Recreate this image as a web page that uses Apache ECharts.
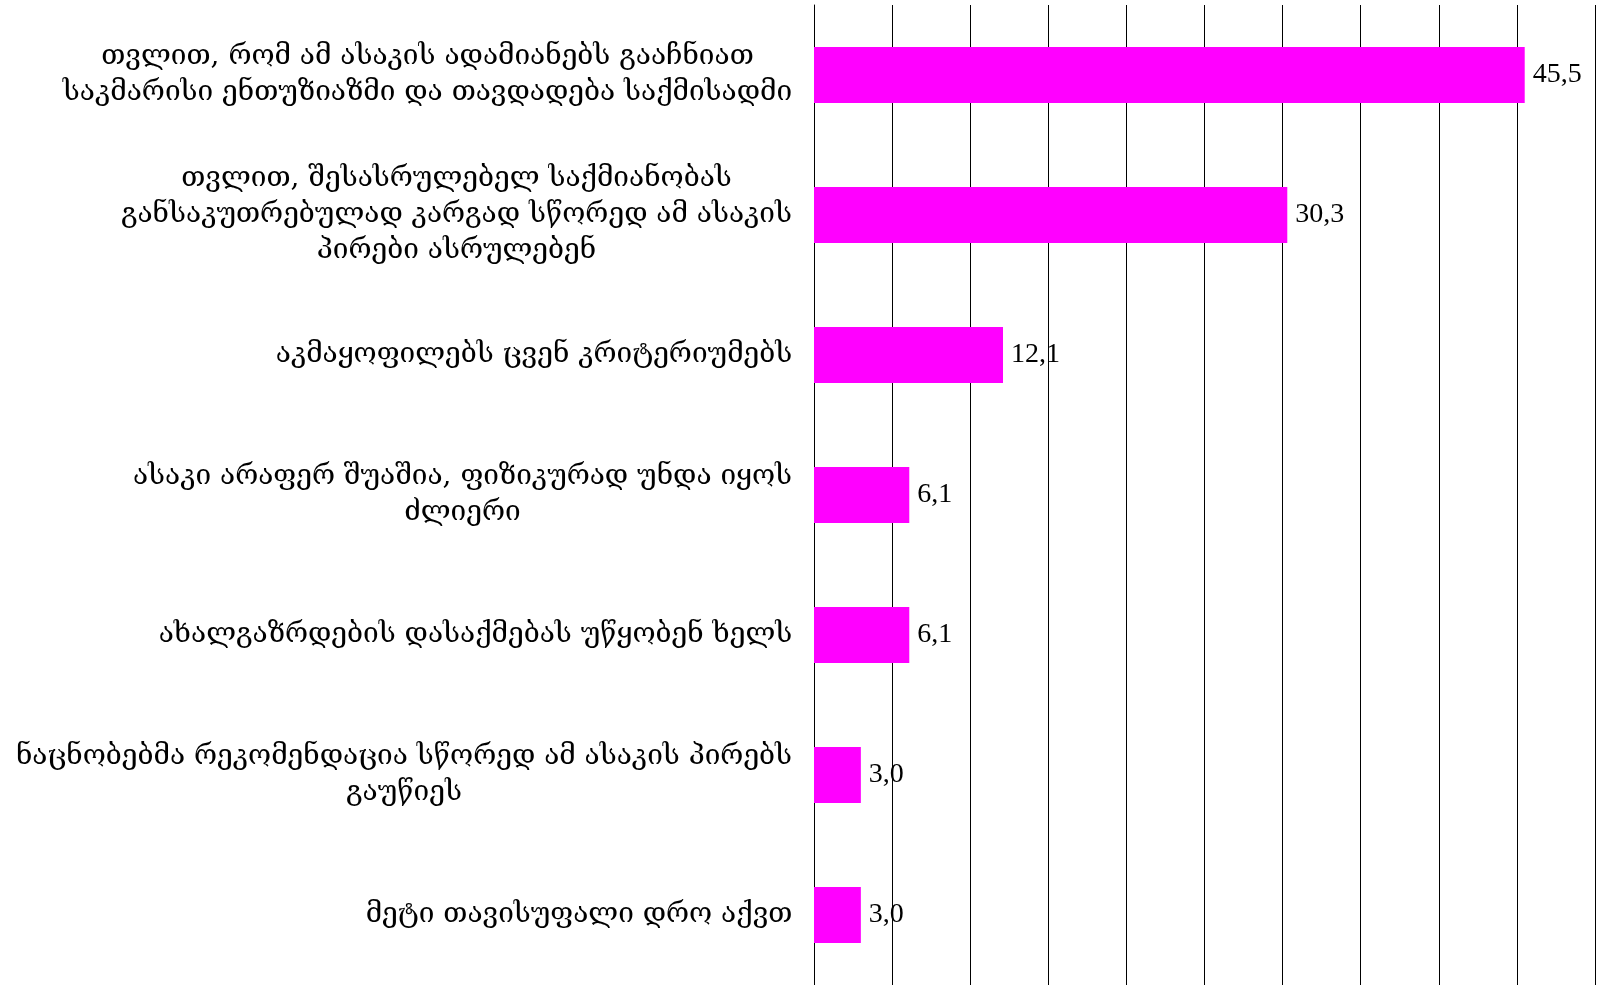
<!DOCTYPE html>
<html><head><meta charset="utf-8">
<script src="https://cdn.jsdelivr.net/npm/echarts@6/dist/echarts.min.js"></script>
<style>html,body{margin:0;padding:0;background:#fff}#c{width:1604px;height:985px}</style>
</head><body><div id="c"></div>
<script>
const categories = [
  "თვლით, რომ ამ ასაკის ადამიანებს გააჩნიათ\nსაკმარისი ენთუზიაზმი და თავდადება საქმისადმი",
  "თვლით, შესასრულებელ საქმიანობას\nგანსაკუთრებულად კარგად სწორედ ამ ასაკის\nპირები ასრულებენ",
  "აკმაყოფილებს ცვენ კრიტერიუმებს",
  "ასაკი არაფერ შუაშია, ფიზიკურად უნდა იყოს\nძლიერი",
  "ახალგაზრდების დასაქმებას უწყობენ ხელს",
  "ნაცნობებმა რეკომენდაცია სწორედ ამ ასაკის პირებს\nგაუწიეს",
  "მეტი თავისუფალი დრო აქვთ"
];
const values = [45.5, 30.3, 12.1, 6.1, 6.1, 3.0, 3.0];

const labelFont = 'DejaVu Serif';
const labelSize = 28;
const cv = document.createElement('canvas').getContext('2d');
cv.font = labelSize + 'px "' + labelFont + '"';
const rich = {};
categories.forEach((c, i) => {
  const w = Math.max(...c.split('\n').map(s => cv.measureText(s).width));
  rich['r' + i] = {width: Math.ceil(w) + 1, align: 'center', fontFamily: labelFont, fontSize: labelSize, color: '#000', lineHeight: 36};
});

const chart = echarts.init(document.getElementById('c'));
chart.setOption({
  animation: false,
  grid: {left: 814, right: 9, top: 5, bottom: 0, containLabel: false},
  xAxis: {
    type: 'value', min: 0, max: 50, interval: 5,
    axisLabel: {show: false}, axisTick: {show: false}, axisLine: {show: false},
    splitLine: {show: true, lineStyle: {color: '#000', width: 1}}
  },
  yAxis: {
    type: 'category', data: categories, inverse: true,
    axisTick: {show: false},
    axisLine: {show: true, lineStyle: {color: '#000', width: 1}},
    axisLabel: {
      margin: 21, align: 'right',
      formatter: (v, idx) => v.split('\n').map(s => '{r' + idx + '|' + s + '}').join('\n'),
      rich: rich
    }
  },
  series: [{
    type: 'bar', data: values, barWidth: 56,
    itemStyle: {color: '#FF00FF'},
    label: {
      show: true, position: 'right', distance: 8,
      fontFamily: 'Liberation Serif', fontSize: 28, color: '#000',
      formatter: p => p.value.toFixed(1).replace('.', ',')
    }
  }]
});
</script></body></html>
